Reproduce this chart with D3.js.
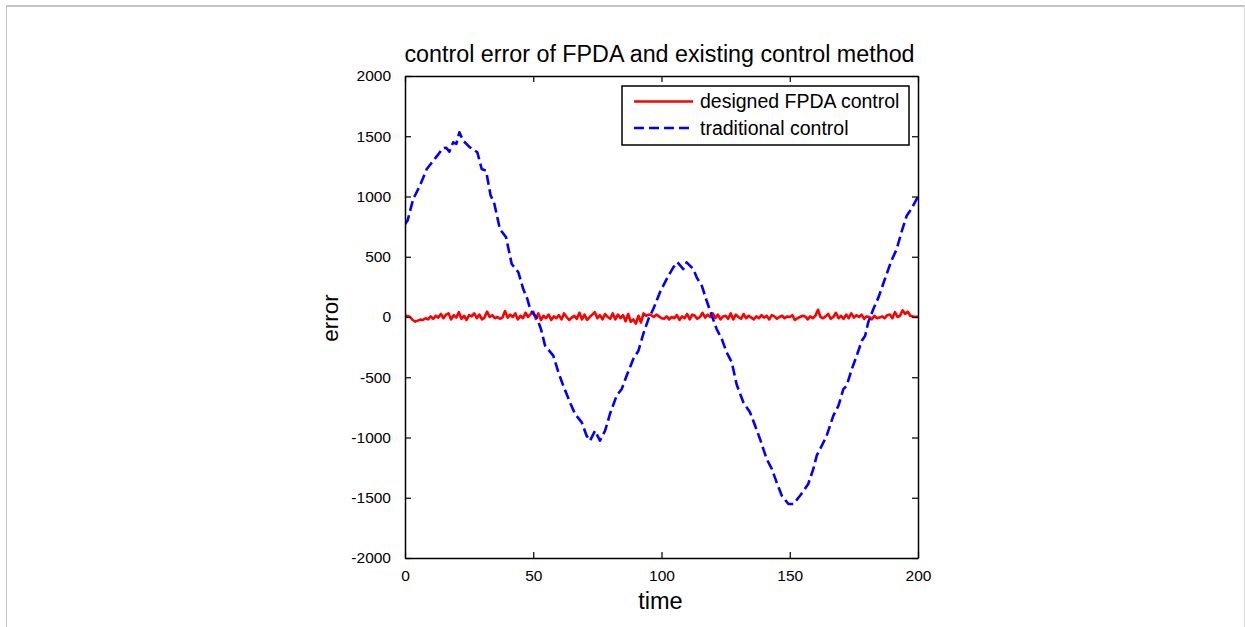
<!DOCTYPE html>
<html>
<head>
<meta charset="utf-8">
<script src="https://cdn.jsdelivr.net/npm/d3@7"></script>
<style>
  html, body { margin: 0; padding: 0; background: #fff; }
  svg { display: block; font-family: Arial, "Liberation Sans", sans-serif; }
</style>
</head>
<body>
<svg id="chart" width="1245" height="627"></svg>
<script>
// ---- data ----
const titleText = "control error of FPDA and existing control method";
const xLabel = "time";
const yLabel = "error";
const seriesNames = ["designed FPDA control", "traditional control"];
const xTicks = [0, 50, 100, 150, 200];
const yTicks = [-2000, -1500, -1000, -500, 0, 500, 1000, 1500, 2000];

// designed FPDA control: one value per time step t = 0..200
const fpdaValues = [
  10, 8, 0, -25, -38, -30, -22, -25, -10, -20, 5, -15, 10, -5, 25, -10, 20, 30, -20, 15,
  -5, 40, -15, 10, -25, 15, 5, 30, -10, 20, -20, -5, 45, 0, 15, -10, 0, -15, -5, 50,
  -5, 20, 0, 30, -20, 10, -10, 35, 0, 25, 45, -15, 30, -25, 10, -10, 20, -25, 5, -10,
  15, -20, 30, 0, -25, -5, 10, -15, 35, -20, 20, -25, 0, 20, 40, -10, 15, -20, 25, 0,
  -15, 30, -20, 20, -10, 15, -35, 25, -40, -20, -55, 10, -45, 30, 10, 20, 15, 0, 20, 5,
  -10, -15, 5, -20, 0, -10, 15, -25, 5, -10, 25, -20, 20, 10, -15, 0, 35, -5, 20, 0,
  30, -10, 20, -20, 5, 10, -15, 30, -20, 20, 0, -15, 25, -10, 10, -5, -20, 5, -10, 15,
  -5, 10, -20, 15, 5, -15, 0, 10, -10, 5, 0, 15, -25, -10, 0, 10, 5, -20, 5, -10,
  10, 60, 0, -10, 5, 25, -15, 0, 35, -10, 10, -15, 20, -10, 30, -5, 15, 0, 20, -15,
  5, 0, -20, 10, -10, -5, 5, -10, 15, 20, -10, 40, 0, 10, 55, 25, 45, 10, 5, 0,
  5
];

const tradTimes = [
  0, 1, 3.2, 5.8, 8.5, 11, 13, 14.7, 16, 17.3, 18.8, 20, 21.2, 22.7, 25.3, 28.2, 29.9, 31.6, 33.4, 34.7,
  37, 39.4, 41.6, 44.2, 46.1, 47.7, 49, 51.3, 53, 54.6, 57.8, 59.8, 61.7, 64.3, 66.3, 68.9, 70.8, 72.1, 74.1, 76,
  78, 79.9, 82.5, 84.5, 86.4, 89, 91, 92.9, 94.9, 96.8, 99.4, 102, 104.6, 106.2, 108.5, 109.8, 112.4, 113.7, 115.7, 117.6,
  119.6, 121.5, 123.5, 125.4, 127.4, 129.3, 131.9, 134.5, 136.5, 138.4, 141, 143, 144.9, 146.9, 149.5, 151.4, 154, 157.2, 159.2, 160.5,
  162.5, 164.4, 167, 169, 170.9, 172.2, 174.2, 176.1, 178.1, 179.4, 180.6, 182.6, 184.6, 187.1, 189.5, 191.7, 193.5, 195.6, 197.5, 200
];
const tradValues = [
  770, 800, 979, 1090, 1228, 1297, 1350, 1400, 1405, 1372, 1450, 1436, 1533, 1463, 1408, 1367, 1228, 1214, 1007, 952,
  730, 661, 440, 371, 232, 149, 52, -3, -100, -238, -321, -459, -570, -708, -805, -874, -985, -1027, -944, -1027,
  -944, -805, -653, -598, -487, -349, -280, -141, -17, 66, 205, 315, 412, 454, 398, 454, 398, 329, 260, 135,
  11, -100, -183, -293, -376, -560, -708, -791, -902, -1012, -1178, -1261, -1372, -1483, -1552, -1552, -1483, -1386, -1261, -1151,
  -1068, -985, -819, -736, -598, -570, -432, -321, -197, -155, -44, 66, 163, 315, 460, 564, 700, 841, 900, 1000
];

// ---- layout ----
const svg = d3.select("#chart");
const W = 1245, H = 627;
const plot = { left: 405, top: 76, right: 918, bottom: 558 };

// outer light frame
svg.append("line").attr("x1", 6).attr("x2", 1245).attr("y1", 6).attr("y2", 6)
  .attr("stroke", "#c4c4c4").attr("stroke-width", 2);
svg.append("line").attr("x1", 6.5).attr("x2", 6.5).attr("y1", 5).attr("y2", H)
  .attr("stroke", "#c4c4c4").attr("stroke-width", 1);
svg.append("line").attr("x1", 1244.5).attr("x2", 1244.5).attr("y1", 5).attr("y2", H)
  .attr("stroke", "#d8d8d8").attr("stroke-width", 1);

const x = d3.scaleLinear().domain([0, 200]).range([plot.left, plot.right]);
const y = d3.scaleLinear().domain([-2000, 2000]).range([plot.bottom, plot.top]);

// clip
svg.append("clipPath").attr("id", "clip").append("rect")
  .attr("x", plot.left).attr("y", plot.top)
  .attr("width", plot.right - plot.left).attr("height", plot.bottom - plot.top);

const line = d3.line().x(d => x(d[0])).y(d => y(d[1]));

const fpdaData = fpdaValues.map((v, i) => [i, v]);
const tradData = tradTimes.map((t, i) => [t, tradValues[i]]);

const g = svg.append("g").attr("clip-path", "url(#clip)");
g.append("path").datum(fpdaData).attr("d", line)
  .attr("fill", "none").attr("stroke", "#ff0000").attr("stroke-width", 2.6)
  .attr("stroke-linejoin", "round");
g.append("path").datum(tradData).attr("d", line)
  .attr("fill", "none").attr("stroke", "#0000ff").attr("stroke-width", 2.6)
  .attr("stroke-dasharray", "10,4.5").attr("stroke-linejoin", "round");

// axes
const tickLen = 6;
const fmt = d => String(d);
function styleAxis(sel) {
  sel.selectAll(".domain").attr("stroke", "#000").attr("stroke-width", 1.5);
  sel.selectAll(".tick line").attr("stroke", "#000").attr("stroke-width", 1.2);
  sel.selectAll(".tick text").attr("fill", "#000").style("font-size", "15.5px")
    .style("font-family", "Arial, 'Liberation Sans', sans-serif");
}
const xAxis = svg.append("g").attr("transform", `translate(0,${plot.bottom})`)
  .call(d3.axisBottom(x).tickValues(xTicks).tickFormat(fmt)
    .tickSizeInner(-tickLen).tickSizeOuter(0).tickPadding(12));
styleAxis(xAxis);
const xAxisTop = svg.append("g").attr("transform", `translate(0,${plot.top})`)
  .call(d3.axisTop(x).tickValues(xTicks).tickFormat("")
    .tickSizeInner(-tickLen).tickSizeOuter(0));
styleAxis(xAxisTop);
const yAxis = svg.append("g").attr("transform", `translate(${plot.left},0)`)
  .call(d3.axisLeft(y).tickValues(yTicks).tickFormat(fmt)
    .tickSizeInner(-tickLen).tickSizeOuter(0).tickPadding(14));
styleAxis(yAxis);
const yAxisRight = svg.append("g").attr("transform", `translate(${plot.right},0)`)
  .call(d3.axisRight(y).tickValues(yTicks).tickFormat("")
    .tickSizeInner(-tickLen).tickSizeOuter(0));
styleAxis(yAxisRight);

// title and axis labels
svg.append("text").attr("x", (plot.left + plot.right) / 2 - 2).attr("y", 62)
  .attr("text-anchor", "middle").style("font-size", "23.3px").attr("fill", "#000")
  .text(titleText);
svg.append("text").attr("x", (plot.left + plot.right) / 2 - 1).attr("y", 609)
  .attr("text-anchor", "middle").style("font-size", "23.5px").attr("fill", "#000")
  .text(xLabel);
svg.append("text").attr("transform", `translate(338,${(plot.top + plot.bottom) / 2 + 1}) rotate(-90)`)
  .attr("text-anchor", "middle").style("font-size", "22.5px").attr("fill", "#000")
  .text(yLabel);

// legend
const lg = svg.append("g");
lg.append("rect").attr("x", 622).attr("y", 86).attr("width", 287).attr("height", 59)
  .attr("fill", "#fff").attr("stroke", "#000").attr("stroke-width", 1.5);
const legendColors = ["#ff0000", "#0000ff"];
const legendDash = [null, "10,5"];
const rowY = [101.5, 128];
seriesNames.forEach((name, i) => {
  lg.append("line").attr("x1", 634).attr("x2", 693).attr("y1", rowY[i]).attr("y2", rowY[i])
    .attr("stroke", legendColors[i]).attr("stroke-width", 2.6)
    .attr("stroke-dasharray", legendDash[i]);
  lg.append("text").attr("x", 700).attr("y", rowY[i]).attr("dy", "0.35em")
    .style("font-size", "19.5px").attr("fill", "#000").text(name);
});
</script>
</body>
</html>
